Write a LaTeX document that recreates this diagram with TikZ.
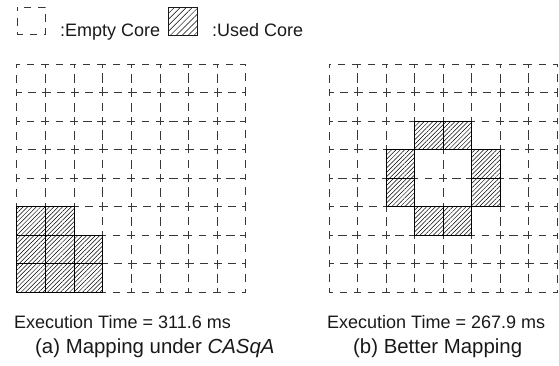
\documentclass[tikz,border=0pt]{standalone}
\usepackage{fontspec}
\setmainfont{Liberation Sans}
\usetikzlibrary{patterns.meta}
\begin{document}
\begin{tikzpicture}[x=1pt,y=-1pt,
  emptycell/.style={draw=black!78, line width=1pt, dash pattern=on 7.6pt off 6.7pt, dash phase=3.8pt},
  usedfill/.style={pattern={Lines[angle=45,distance=3.1pt,line width=0.5pt]}, pattern color=black},
  usedborder/.style={draw=black, line width=1.4pt},
  legused/.style={draw=black!90, line width=1pt, pattern={Lines[angle=45,distance=4.2pt,line width=0.5pt]}, pattern color=black},
  lbl/.style={inner sep=0pt, anchor=base west, text=black!90, font=\fontsize{18}{21}\selectfont},
  captext/.style={inner sep=0pt, anchor=base west, text=black!90, font=\fontsize{20.4}{24}\selectfont}]
\useasboundingbox (0,0) rectangle (559,366);

% legend
\draw[emptycell] (17.5,7.5) rectangle (45.5,34.5);
\node[lbl] (legempty) at (60,37) {:Empty Core};
\draw[legused] (168.5,7.5) rectangle (197.5,35.5);
\node[lbl] (legusedtxt) at (212,37) {:Used Core};

% cell macro: #1 style, #2 x0, #3 cell width, #4 column, #5 row
\newcommand{\gridcell}[5]{%
  \pgfmathsetmacro\xa{floor(#2+#4*#3)+0.5}%
  \pgfmathsetmacro\xb{floor(#2+(#4+1)*#3)+0.5}%
  \pgfmathsetmacro\ya{floor(64+#5*28.5)+0.5}%
  \pgfmathsetmacro\yb{floor(64+(#5+1)*28.5)+0.5}%
  \path[#1] (\xa,\ya) rectangle (\xb,\yb);}

% left grid
\foreach \i in {0,...,7}
  \foreach \j in {0,...,7}
    {\gridcell{emptycell}{16.7}{28.66}{\i}{\j}}
\foreach \i/\j in {0/5,1/5,0/6,1/6,2/6,0/7,1/7,2/7}
  {\gridcell{usedfill}{16.7}{28.66}{\i}{\j}}
\foreach \i/\j in {0/5,1/5,0/6,1/6,2/6,0/7,1/7,2/7}
  {\gridcell{usedborder}{16.7}{28.66}{\i}{\j}}

% right grid
\foreach \i in {0,...,7}
  \foreach \j in {0,...,7}
    {\gridcell{emptycell}{329}{28.54}{\i}{\j}}
\foreach \i/\j in {3/2,4/2,2/3,5/3,2/4,5/4,3/5,4/5}
  {\gridcell{usedfill}{329}{28.54}{\i}{\j}}
\foreach \i/\j in {3/2,4/2,2/3,5/3,2/4,5/4,3/5,4/5}
  {\gridcell{usedborder}{329}{28.54}{\i}{\j}}

% texts
\node[lbl] (timea) at (14,328) {Execution Time = 311.6 ms};
\node[lbl] (timeb) at (327,328) {Execution Time = 267.9 ms};
\node[captext] (capa) at (35,353) {(a) Mapping under \textit{CASqA}};
\node[captext] (capb) at (353,353) {(b) Better Mapping};
\end{tikzpicture}
\end{document}
